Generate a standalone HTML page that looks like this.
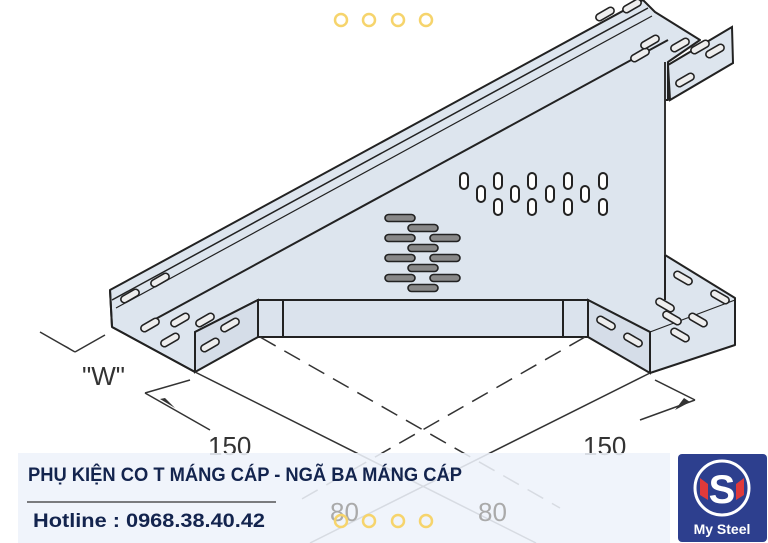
<!DOCTYPE html>
<html><head><meta charset="utf-8"><style>
html,body{margin:0;padding:0;background:#fff;}
body{width:768px;height:543px;overflow:hidden;position:relative;font-family:"Liberation Sans",sans-serif;}
svg{position:absolute;left:0;top:0;}
</style></head><body>
<svg width="768" height="543" viewBox="0 0 768 543" overflow="hidden">
<defs>
<g id="vs"><rect x="-4" y="-8" width="8" height="16" rx="4" fill="#fff" stroke="#222" stroke-width="2"/></g>
<g id="hs"><rect x="-15" y="-3.5" width="30" height="7" rx="3.5" fill="#888" stroke="#222" stroke-width="1.6"/></g>
<g id="ds"><rect x="-10" y="-3.5" width="20" height="7" rx="3.5" fill="#eee" stroke="#222" stroke-width="1.6"/></g>
</defs>
<polygon points="110,290 643,0 655,12 700,40 668,62 668,100 665,100 665,255 735,298 735,345 650,373 650,332 588,300 258,300 195,332 195,372 112,327" fill="#dde5ee" stroke="#222" stroke-width="2" stroke-linejoin="round"/>
<line x1="112" y1="300" x2="648" y2="8" stroke="#222" stroke-width="1.5"/>
<line x1="116" y1="308" x2="652" y2="16" stroke="#222" stroke-width="1.2"/>
<line x1="150" y1="322" x2="668" y2="40" stroke="#222" stroke-width="2"/>
<line x1="110" y1="290" x2="112" y2="327" stroke="#222" stroke-width="2"/>
<line x1="665" y1="62" x2="665" y2="255" stroke="#333" stroke-width="2"/>
<polygon points="668,65 732,27 733,63 670,100" fill="#dde5ee" stroke="#222" stroke-width="2"/>
<polygon points="195,332 258,300 258,337 195,372" fill="#d5dde8" stroke="#222" stroke-width="2"/>
<line x1="112" y1="327" x2="195" y2="372" stroke="#222" stroke-width="2"/>
<rect x="258" y="300" width="330" height="37" fill="#dbe3ed" stroke="#222" stroke-width="2"/>
<line x1="283" y1="300" x2="283" y2="337" stroke="#222" stroke-width="2"/>
<line x1="563" y1="300" x2="563" y2="337" stroke="#222" stroke-width="2"/>
<polygon points="588,300 650,332 650,373 588,337" fill="#d5dde8" stroke="#222" stroke-width="2"/>
<line x1="665" y1="255" x2="665" y2="300" stroke="#222" stroke-width="2"/>
<line x1="650" y1="332" x2="735" y2="300" stroke="#222" stroke-width="1.2"/>
<g>
<use href="#ds" transform="translate(130,296) rotate(-30)"/>
<use href="#ds" transform="translate(160,280) rotate(-30)"/>
<use href="#ds" transform="translate(605,14) rotate(-30)"/>
<use href="#ds" transform="translate(632,6) rotate(-30)"/>
<use href="#ds" transform="translate(150,325) rotate(-30)"/>
<use href="#ds" transform="translate(180,320) rotate(-30)"/>
<use href="#ds" transform="translate(170,340) rotate(-30)"/>
<use href="#ds" transform="translate(205,320) rotate(-30)"/>
<use href="#ds" transform="translate(230,325) rotate(-30)"/>
<use href="#ds" transform="translate(210,345) rotate(-30)"/>
<use href="#ds" transform="translate(640,55) rotate(-30)"/>
<use href="#ds" transform="translate(650,42) rotate(-30)"/>
<use href="#ds" transform="translate(680,45) rotate(-30)"/>
<use href="#ds" transform="translate(700,47) rotate(-30)"/>
<use href="#ds" transform="translate(715,51) rotate(-30)"/>
<use href="#ds" transform="translate(685,80) rotate(-30)"/>
<use href="#ds" transform="translate(606,323) rotate(30)"/>
<use href="#ds" transform="translate(633,340) rotate(30)"/>
<use href="#ds" transform="translate(683,278) rotate(30)"/>
<use href="#ds" transform="translate(720,297) rotate(30)"/>
<use href="#ds" transform="translate(665,305) rotate(30)"/>
<use href="#ds" transform="translate(672,318) rotate(30)"/>
<use href="#ds" transform="translate(698,320) rotate(30)"/>
<use href="#ds" transform="translate(680,335) rotate(30)"/>
</g>
<use href="#vs" x="464" y="181"/><use href="#vs" x="498" y="181"/><use href="#vs" x="532" y="181"/><use href="#vs" x="568" y="181"/><use href="#vs" x="603" y="181"/>
<use href="#vs" x="481" y="194"/><use href="#vs" x="515" y="194"/><use href="#vs" x="550" y="194"/><use href="#vs" x="585" y="194"/>
<use href="#vs" x="498" y="207"/><use href="#vs" x="532" y="207"/><use href="#vs" x="568" y="207"/><use href="#vs" x="603" y="207"/>
<use href="#hs" x="400" y="218"/><use href="#hs" x="400" y="238"/><use href="#hs" x="400" y="258"/><use href="#hs" x="400" y="278"/>
<use href="#hs" x="423" y="228"/><use href="#hs" x="423" y="248"/><use href="#hs" x="423" y="268"/><use href="#hs" x="423" y="288"/>
<use href="#hs" x="445" y="238"/><use href="#hs" x="445" y="258"/><use href="#hs" x="445" y="278"/>
<g stroke="#333" stroke-width="1.5" fill="none">
<line x1="195" y1="372" x2="536" y2="543"/>
<line x1="650" y1="373" x2="310" y2="543"/>
<line x1="260" y1="337" x2="560" y2="508" stroke-dasharray="18,10"/>
<line x1="585" y1="337" x2="300" y2="500" stroke-dasharray="18,10"/>
<line x1="40" y1="332" x2="75" y2="352"/>
<line x1="105" y1="335" x2="75" y2="352"/>
<line x1="145" y1="393" x2="190" y2="380"/>
<line x1="145" y1="393" x2="210" y2="430"/>
<line x1="655" y1="380" x2="695" y2="400"/>
<line x1="640" y1="420" x2="695" y2="400"/>
</g>
<g fill="#333"><polygon points="60,343 75,352 68,347"/><polygon points="160,399 175,408 165,398"/><polygon points="690,402 675,410 684,398"/></g>
<g font-family="Liberation Sans, sans-serif" fill="#333" font-size="26">
<text x="82" y="385">"W"</text>
<text x="208" y="455">150</text>
<text x="583" y="455">150</text>
</g>
<g fill="none" stroke="#f6d46c" stroke-width="2.5">
<circle cx="341" cy="20" r="6"/><circle cx="369" cy="20" r="6"/><circle cx="398" cy="20" r="6"/><circle cx="426" cy="20" r="6"/>
</g>
<rect x="18" y="453" width="652" height="90" fill="#eef3fa" opacity="0.88"/>
<g font-family="Liberation Sans, sans-serif" fill="#aaa" font-size="26">
<text x="330" y="521">80</text><text x="478" y="521">80</text>
</g>
<g fill="none" stroke="#f6d46c" stroke-width="2.5">
<circle cx="341" cy="521" r="6"/><circle cx="369" cy="521" r="6"/><circle cx="398" cy="521" r="6"/><circle cx="426" cy="521" r="6"/>
</g>
<text x="28" y="481" font-family="Liberation Sans, sans-serif" font-weight="bold" font-size="19" fill="#13244e" textLength="434" lengthAdjust="spacingAndGlyphs">PHỤ KIỆN CO T MÁNG CÁP - NGÃ BA MÁNG CÁP</text>
<line x1="27" y1="502" x2="276" y2="502" stroke="#333" stroke-width="1.2"/>
<text x="33" y="527" font-family="Liberation Sans, sans-serif" font-weight="bold" font-size="19" fill="#13244e" textLength="232" lengthAdjust="spacingAndGlyphs">Hotline : 0968.38.40.42</text>
<rect x="678" y="454" width="89" height="88" rx="4" fill="#2d3f8e"/>
<circle cx="722" cy="488" r="27" fill="#2d3f8e" stroke="#fff" stroke-width="3"/>
<polygon points="700,478 708,484 708,500 700,495" fill="#e03a3a"/>
<polygon points="744,478 736,484 736,500 744,495" fill="#e03a3a"/>
<text x="722" y="503" text-anchor="middle" font-family="Liberation Sans, sans-serif" font-weight="bold" font-size="40" fill="#fff">S</text>
<text x="722" y="534" text-anchor="middle" font-family="Liberation Sans, sans-serif" font-weight="bold" font-size="14" fill="#fff">My Steel</text>
</svg>
</body></html>
